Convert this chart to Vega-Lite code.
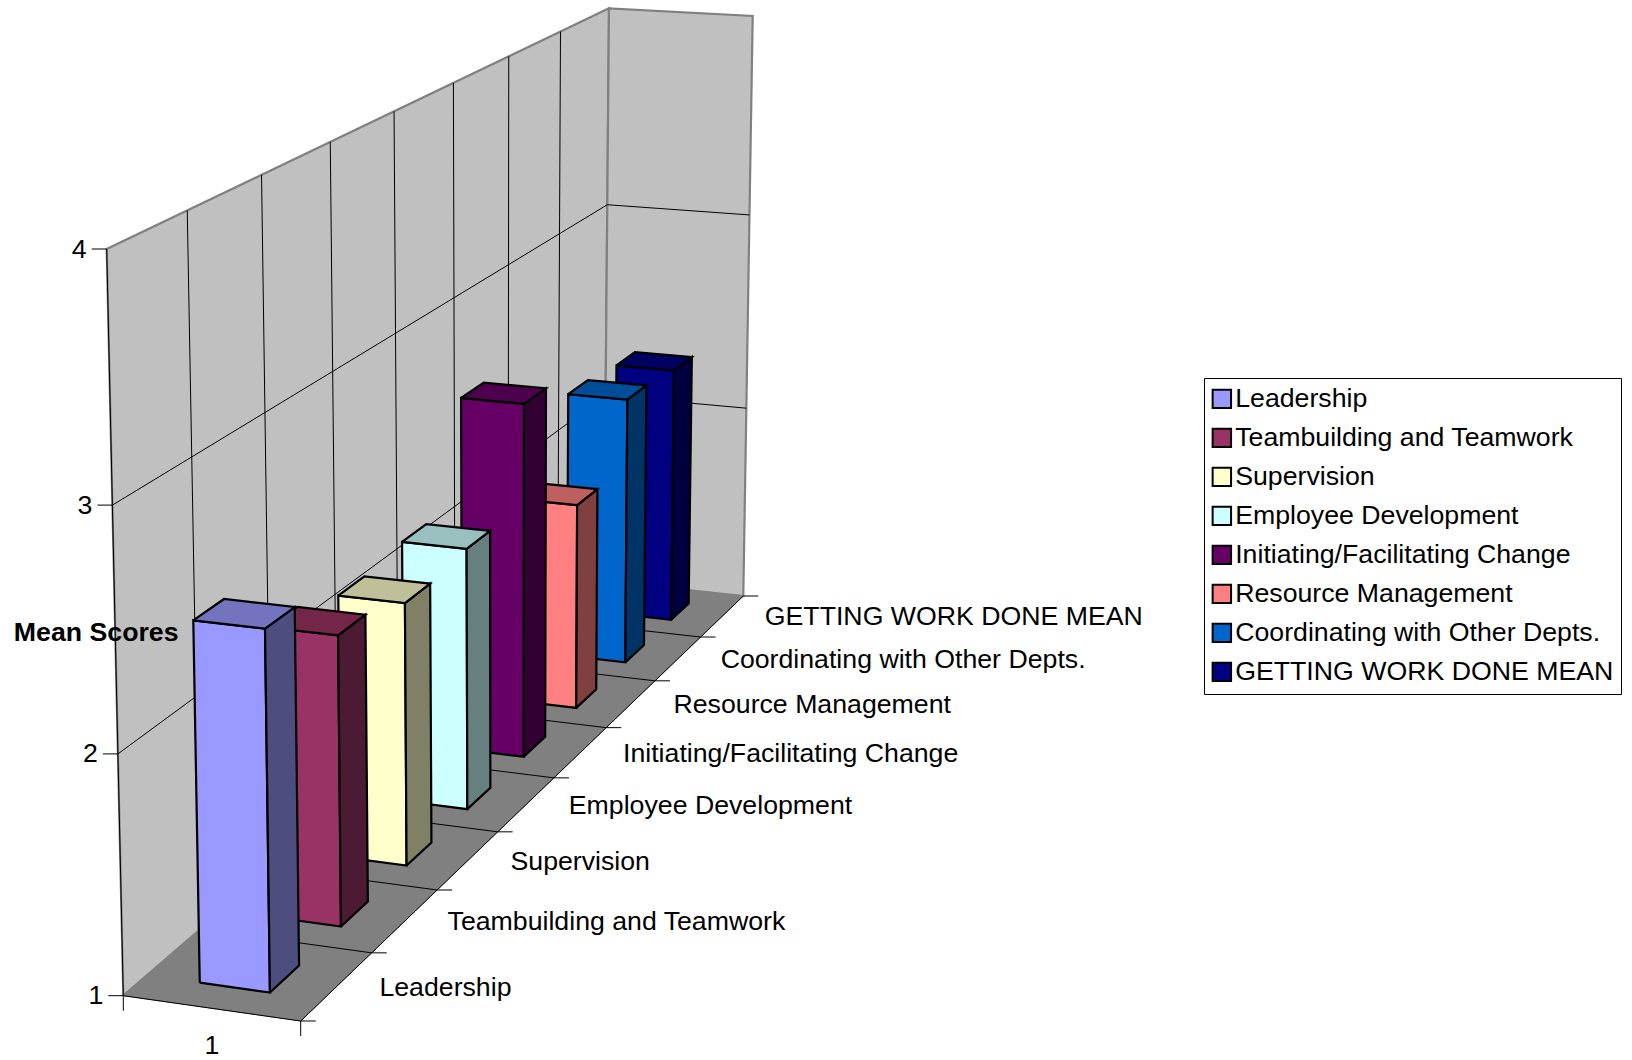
{
  "$schema": "https://vega.github.io/schema/vega-lite/v6.json",
  "width": 1632,
  "height": 1060,
  "padding": 0,
  "autosize": "none",
  "background": "white",
  "config": {
    "view": {"stroke": null},
    "font": "Liberation Sans",
    "text": {"font": "Liberation Sans", "fontSize": 26.7, "color": "black"}
  },
  "datasets": {
    "scores": [
      {"series": "GETTING WORK DONE MEAN", "position": 7, "score": 2.3},
      {"series": "Coordinating with Other Depts.", "position": 6, "score": 2.33},
      {"series": "Resource Management", "position": 5, "score": 2.0},
      {"series": "Initiating/Facilitating Change", "position": 4, "score": 2.67},
      {"series": "Employee Development", "position": 3, "score": 2.2},
      {"series": "Supervision", "position": 2, "score": 2.17},
      {"series": "Teambuilding and Teamwork", "position": 1, "score": 2.25},
      {"series": "Leadership", "position": 0, "score": 2.5}
    ],
    "planes": [
      {"part": "Left wall", "u": [0, 0, 0, 0, 0], "depth": [0, 8, 8, 0, 0], "level": [1, 1, 4, 4, 1], "vertex": [0, 1, 2, 3, 4]},
      {"part": "Back wall", "u": [0, 1, 1, 0, 0], "depth": [8, 8, 8, 8, 8], "level": [1, 1, 4, 4, 1], "vertex": [0, 1, 2, 3, 4]},
      {"part": "Floor", "u": [0, 1, 1, 0, 0], "depth": [0, 0, 8, 8, 0], "level": [1, 1, 1, 1, 1], "vertex": [0, 1, 2, 3, 4]}
    ],
    "grid": [
      {"id": "wall d0", "u": [0, 0], "depth": [0, 0], "level": [1, 4], "vertex": [0, 1]},
      {"id": "wall d1", "u": [0, 0], "depth": [1, 1], "level": [1, 4], "vertex": [0, 1]},
      {"id": "wall d2", "u": [0, 0], "depth": [2, 2], "level": [1, 4], "vertex": [0, 1]},
      {"id": "wall d3", "u": [0, 0], "depth": [3, 3], "level": [1, 4], "vertex": [0, 1]},
      {"id": "wall d4", "u": [0, 0], "depth": [4, 4], "level": [1, 4], "vertex": [0, 1]},
      {"id": "wall d5", "u": [0, 0], "depth": [5, 5], "level": [1, 4], "vertex": [0, 1]},
      {"id": "wall d6", "u": [0, 0], "depth": [6, 6], "level": [1, 4], "vertex": [0, 1]},
      {"id": "wall d7", "u": [0, 0], "depth": [7, 7], "level": [1, 4], "vertex": [0, 1]},
      {"id": "left 2", "u": [0, 0], "depth": [0, 8], "level": [2, 2], "vertex": [0, 1]},
      {"id": "left 3", "u": [0, 0], "depth": [0, 8], "level": [3, 3], "vertex": [0, 1]},
      {"id": "back 2", "u": [0, 1], "depth": [8, 8], "level": [2, 2], "vertex": [0, 1]},
      {"id": "back 3", "u": [0, 1], "depth": [8, 8], "level": [3, 3], "vertex": [0, 1]},
      {"id": "floor d0", "u": [0, 1], "depth": [0, 0], "level": [1, 1], "vertex": [0, 1]},
      {"id": "floor d1", "u": [0, 1], "depth": [1, 1], "level": [1, 1], "vertex": [0, 1]},
      {"id": "floor d2", "u": [0, 1], "depth": [2, 2], "level": [1, 1], "vertex": [0, 1]},
      {"id": "floor d3", "u": [0, 1], "depth": [3, 3], "level": [1, 1], "vertex": [0, 1]},
      {"id": "floor d4", "u": [0, 1], "depth": [4, 4], "level": [1, 1], "vertex": [0, 1]},
      {"id": "floor d5", "u": [0, 1], "depth": [5, 5], "level": [1, 1], "vertex": [0, 1]},
      {"id": "floor d6", "u": [0, 1], "depth": [6, 6], "level": [1, 1], "vertex": [0, 1]},
      {"id": "floor d7", "u": [0, 1], "depth": [7, 7], "level": [1, 1], "vertex": [0, 1]},
      {"id": "floor edge", "u": [1, 1], "depth": [0, 8], "level": [1, 1], "vertex": [0, 1]}
    ],
    "scoreAxis": [{"score": 1}, {"score": 2}, {"score": 3}, {"score": 4}],
    "depthTicks": [{"tick": 0}, {"tick": 1}, {"tick": 2}, {"tick": 3}, {"tick": 4}, {"tick": 5}, {"tick": 6}, {"tick": 7}, {"tick": 8}],
    "frontTicks": [{"across": 0}, {"across": 1}],
    "frontLabel": [{"across": 0.5, "label": "1"}],
    "scoreTitle": [{"label": "Mean Scores", "score": 2.5}]
  },
  "layer": [
    {
      "data": {"name": "planes"},
      "transform": [
        {"filter": "datum.part != 'Floor'"},
        {"flatten": ["u", "depth", "level", "vertex"]},
        {"calculate": "(datum.depth/8)/(datum.depth/8+0.748*(1-datum.depth/8))", "as": "dp"},
        {"calculate": "((datum.level-1)/3)/((datum.level-1)/3+1.044*(1-(datum.level-1)/3))", "as": "vp"},
        {"calculate": "(1-datum.vp)*((1-datum.dp)*(123.3+177.4*datum.u)+datum.dp*(604+139.3*datum.u))+datum.vp*((1-datum.dp)*(106.7+185.3*datum.u)+datum.dp*(609+143.7*datum.u))", "as": "px"},
        {"calculate": "(1-datum.vp)*((1-datum.dp)*(995.7+25.3*datum.u)+datum.dp*(581+15*datum.u))+datum.vp*((1-datum.dp)*(249+17*datum.u)+datum.dp*(8.3+7.7*datum.u))", "as": "py"}
      ],
      "mark": {"type": "line", "filled": true, "fill": "#C0C0C0", "stroke": "#808080", "strokeWidth": 2.2, "strokeJoin": "miter"},
      "encoding": {
        "x": {"field": "px", "type": "quantitative", "scale": {"domain": [0, 1632], "range": [0, 1632]}, "axis": null},
        "y": {"field": "py", "type": "quantitative", "scale": {"domain": [0, 1060], "range": [0, 1060]}, "axis": null},
        "detail": {"field": "part"},
        "order": {"field": "vertex", "type": "quantitative"}
      }
    },
    {
      "data": {"name": "planes"},
      "transform": [
        {"filter": "datum.part == 'Floor'"},
        {"flatten": ["u", "depth", "level", "vertex"]},
        {"calculate": "(datum.depth/8)/(datum.depth/8+0.748*(1-datum.depth/8))", "as": "dp"},
        {"calculate": "((datum.level-1)/3)/((datum.level-1)/3+1.044*(1-(datum.level-1)/3))", "as": "vp"},
        {"calculate": "(1-datum.vp)*((1-datum.dp)*(123.3+177.4*datum.u)+datum.dp*(604+139.3*datum.u))+datum.vp*((1-datum.dp)*(106.7+185.3*datum.u)+datum.dp*(609+143.7*datum.u))", "as": "px"},
        {"calculate": "(1-datum.vp)*((1-datum.dp)*(995.7+25.3*datum.u)+datum.dp*(581+15*datum.u))+datum.vp*((1-datum.dp)*(249+17*datum.u)+datum.dp*(8.3+7.7*datum.u))", "as": "py"}
      ],
      "mark": {"type": "line", "filled": true, "fill": "#808080", "stroke": "#808080", "strokeWidth": 1},
      "encoding": {
        "x": {"field": "px", "type": "quantitative", "scale": {"domain": [0, 1632], "range": [0, 1632]}, "axis": null},
        "y": {"field": "py", "type": "quantitative", "scale": {"domain": [0, 1060], "range": [0, 1060]}, "axis": null},
        "detail": {"field": "part"},
        "order": {"field": "vertex", "type": "quantitative"}
      }
    },
    {
      "data": {"name": "grid"},
      "transform": [
        {"flatten": ["u", "depth", "level", "vertex"]},
        {"calculate": "(datum.depth/8)/(datum.depth/8+0.748*(1-datum.depth/8))", "as": "dp"},
        {"calculate": "((datum.level-1)/3)/((datum.level-1)/3+1.044*(1-(datum.level-1)/3))", "as": "vp"},
        {"calculate": "(1-datum.vp)*((1-datum.dp)*(123.3+177.4*datum.u)+datum.dp*(604+139.3*datum.u))+datum.vp*((1-datum.dp)*(106.7+185.3*datum.u)+datum.dp*(609+143.7*datum.u))", "as": "px"},
        {"calculate": "(1-datum.vp)*((1-datum.dp)*(995.7+25.3*datum.u)+datum.dp*(581+15*datum.u))+datum.vp*((1-datum.dp)*(249+17*datum.u)+datum.dp*(8.3+7.7*datum.u))", "as": "py"}
      ],
      "mark": {"type": "line", "stroke": "black", "strokeWidth": 1},
      "encoding": {
        "x": {"field": "px", "type": "quantitative", "scale": {"domain": [0, 1632], "range": [0, 1632]}, "axis": null},
        "y": {"field": "py", "type": "quantitative", "scale": {"domain": [0, 1060], "range": [0, 1060]}, "axis": null},
        "detail": {"field": "id"},
        "order": {"field": "vertex", "type": "quantitative"}
      }
    },
    {
      "data": {"name": "scoreAxis"},
      "transform": [
        {"calculate": "((datum.score-1)/3)/((datum.score-1)/3+1.044*(1-(datum.score-1)/3))", "as": "vp"},
        {"calculate": "(1-datum.vp)*123.3+datum.vp*106.7", "as": "px"},
        {"calculate": "datum.px-15", "as": "px2"},
        {"calculate": "(1-datum.vp)*995.7+datum.vp*249", "as": "py"}
      ],
      "mark": {"type": "rule", "stroke": "black", "strokeWidth": 1},
      "encoding": {
        "x": {"field": "px", "type": "quantitative", "scale": {"domain": [0, 1632], "range": [0, 1632]}, "axis": null},
        "x2": {"field": "px2"},
        "y": {"field": "py", "type": "quantitative", "scale": {"domain": [0, 1060], "range": [0, 1060]}, "axis": null}
      }
    },
    {
      "data": {"name": "depthTicks"},
      "transform": [
        {"calculate": "(datum.tick/8)/(datum.tick/8+0.748*(1-datum.tick/8))", "as": "dp"},
        {"calculate": "(1-datum.dp)*300.7+datum.dp*743.3", "as": "px"},
        {"calculate": "datum.px+15", "as": "px2"},
        {"calculate": "(1-datum.dp)*1021+datum.dp*596", "as": "py"}
      ],
      "mark": {"type": "rule", "stroke": "black", "strokeWidth": 1},
      "encoding": {
        "x": {"field": "px", "type": "quantitative", "scale": {"domain": [0, 1632], "range": [0, 1632]}, "axis": null},
        "x2": {"field": "px2"},
        "y": {"field": "py", "type": "quantitative", "scale": {"domain": [0, 1060], "range": [0, 1060]}, "axis": null}
      }
    },
    {
      "data": {"name": "frontTicks"},
      "transform": [
        {"calculate": "123.3+177.4*datum.across", "as": "px"},
        {"calculate": "995.7+25.3*datum.across", "as": "py"},
        {"calculate": "datum.py+15", "as": "py2"}
      ],
      "mark": {"type": "rule", "stroke": "black", "strokeWidth": 1},
      "encoding": {
        "x": {"field": "px", "type": "quantitative", "scale": {"domain": [0, 1632], "range": [0, 1632]}, "axis": null},
        "y": {"field": "py", "type": "quantitative", "scale": {"domain": [0, 1060], "range": [0, 1060]}, "axis": null},
        "y2": {"field": "py2"}
      }
    },
    {
      "data": {"name": "scores"},
      "transform": [
        {"calculate": "['front','side','top']", "as": "face"},
        {"flatten": ["face"]},
        {"calculate": "[0,1,2,3,4]", "as": "vertex"},
        {"flatten": ["vertex"]},
        {"calculate": "datum.face=='side' ? 0.7 : (datum.vertex==1||datum.vertex==2 ? 0.7 : 0.3)", "as": "u"},
        {"calculate": "datum.position+(datum.face=='front' ? 0.3 : datum.face=='top' ? (datum.vertex==2||datum.vertex==3 ? 0.7 : 0.3) : (datum.vertex==1||datum.vertex==2 ? 0.7 : 0.3))", "as": "depth"},
        {"calculate": "datum.face=='top' ? datum.score : (datum.vertex==2||datum.vertex==3 ? datum.score : 1)", "as": "level"},
        {"calculate": "datum.face=='front' ? datum.series : datum.series+' '+datum.face", "as": "shade"},
        {"calculate": "(datum.depth/8)/(datum.depth/8+0.748*(1-datum.depth/8))", "as": "dp"},
        {"calculate": "((datum.level-1)/3)/((datum.level-1)/3+1.044*(1-(datum.level-1)/3))", "as": "vp"},
        {"calculate": "(1-datum.vp)*((1-datum.dp)*(123.3+177.4*datum.u)+datum.dp*(604+139.3*datum.u))+datum.vp*((1-datum.dp)*(106.7+185.3*datum.u)+datum.dp*(609+143.7*datum.u))", "as": "px"},
        {"calculate": "(1-datum.vp)*((1-datum.dp)*(995.7+25.3*datum.u)+datum.dp*(581+15*datum.u))+datum.vp*((1-datum.dp)*(249+17*datum.u)+datum.dp*(8.3+7.7*datum.u))", "as": "py"}
      ],
      "mark": {"type": "line", "filled": true, "stroke": "black", "strokeWidth": 2.2, "strokeJoin": "miter"},
      "encoding": {
        "x": {"field": "px", "type": "quantitative", "scale": {"domain": [0, 1632], "range": [0, 1632]}, "axis": null},
        "y": {"field": "py", "type": "quantitative", "scale": {"domain": [0, 1060], "range": [0, 1060]}, "axis": null},
        "detail": {"field": "shade"},
        "order": {"field": "vertex", "type": "quantitative"},
        "fill": {
          "field": "shade",
          "type": "nominal",
          "scale": {
            "domain": [
              "Leadership", "Teambuilding and Teamwork", "Supervision", "Employee Development", "Initiating/Facilitating Change", "Resource Management", "Coordinating with Other Depts.", "GETTING WORK DONE MEAN",
              "Leadership side", "Teambuilding and Teamwork side", "Supervision side", "Employee Development side", "Initiating/Facilitating Change side", "Resource Management side", "Coordinating with Other Depts. side", "GETTING WORK DONE MEAN side",
              "Leadership top", "Teambuilding and Teamwork top", "Supervision top", "Employee Development top", "Initiating/Facilitating Change top", "Resource Management top", "Coordinating with Other Depts. top", "GETTING WORK DONE MEAN top"
            ],
            "range": [
              "#9999FF", "#993366", "#FFFFCC", "#CCFFFF", "#660066", "#FF8080", "#0066CC", "#000080",
              "#4D4D80", "#4D1A33", "#808066", "#668080", "#330033", "#804040", "#003366", "#000040",
              "#7373BF", "#732648", "#BFBF99", "#99BFBF", "#4D004D", "#BF6060", "#004D99", "#000060"
            ]
          },
          "legend": {
            "title": null,
            "values": ["Leadership", "Teambuilding and Teamwork", "Supervision", "Employee Development", "Initiating/Facilitating Change", "Resource Management", "Coordinating with Other Depts.", "GETTING WORK DONE MEAN"],
            "orient": "none",
            "legendX": 1204,
            "legendY": 378,
            "padding": 7.5,
            "strokeColor": "black",
            "fillColor": "white",
            "symbolType": "square",
            "symbolSize": 340,
            "symbolOffset": -3,
            "symbolStrokeColor": "black",
            "symbolStrokeWidth": 2,
            "symbolOpacity": 1,
            "labelFont": "Liberation Sans",
            "labelFontSize": 26.7,
            "labelColor": "black",
            "labelOffset": 0,
            "labelLimit": 500,
            "rowPadding": 11
          }
        }
      }
    },
    {
      "data": {"name": "scoreAxis"},
      "transform": [
        {"calculate": "((datum.score-1)/3)/((datum.score-1)/3+1.044*(1-(datum.score-1)/3))", "as": "vp"},
        {"calculate": "(1-datum.vp)*123.3+datum.vp*106.7", "as": "px"},
        {"calculate": "(1-datum.vp)*995.7+datum.vp*249", "as": "py"}
      ],
      "mark": {"type": "text", "align": "right", "baseline": "middle", "dx": -20, "dy": 0.5},
      "encoding": {
        "x": {"field": "px", "type": "quantitative", "scale": {"domain": [0, 1632], "range": [0, 1632]}, "axis": null},
        "y": {"field": "py", "type": "quantitative", "scale": {"domain": [0, 1060], "range": [0, 1060]}, "axis": null},
        "text": {"field": "score", "type": "quantitative"}
      }
    },
    {
      "data": {"name": "scores"},
      "transform": [
        {"calculate": "((datum.position+0.5)/8)/((datum.position+0.5)/8+0.748*(1-(datum.position+0.5)/8))", "as": "dp"},
        {"calculate": "(1-datum.dp)*300.7+datum.dp*743.3", "as": "px"},
        {"calculate": "(1-datum.dp)*1021+datum.dp*596", "as": "py"}
      ],
      "mark": {"type": "text", "align": "left", "baseline": "middle", "dx": 42.5, "dy": 1.3},
      "encoding": {
        "x": {"field": "px", "type": "quantitative", "scale": {"domain": [0, 1632], "range": [0, 1632]}, "axis": null},
        "y": {"field": "py", "type": "quantitative", "scale": {"domain": [0, 1060], "range": [0, 1060]}, "axis": null},
        "text": {"field": "series", "type": "nominal"}
      }
    },
    {
      "data": {"name": "frontLabel"},
      "transform": [
        {"calculate": "123.3+177.4*datum.across", "as": "px"},
        {"calculate": "995.7+25.3*datum.across", "as": "py"}
      ],
      "mark": {"type": "text", "align": "center", "baseline": "middle", "dy": 38},
      "encoding": {
        "x": {"field": "px", "type": "quantitative", "scale": {"domain": [0, 1632], "range": [0, 1632]}, "axis": null},
        "y": {"field": "py", "type": "quantitative", "scale": {"domain": [0, 1060], "range": [0, 1060]}, "axis": null},
        "text": {"field": "label", "type": "nominal"}
      }
    },
    {
      "data": {"name": "scoreTitle"},
      "transform": [
        {"calculate": "((datum.score-1)/3)/((datum.score-1)/3+1.044*(1-(datum.score-1)/3))", "as": "vp"},
        {"calculate": "(1-datum.vp)*123.3+datum.vp*106.7", "as": "px"},
        {"calculate": "(1-datum.vp)*995.7+datum.vp*249", "as": "py"}
      ],
      "mark": {"type": "text", "align": "center", "baseline": "middle", "fontWeight": "bold", "dx": -19, "dy": 2.5},
      "encoding": {
        "x": {"field": "px", "type": "quantitative", "scale": {"domain": [0, 1632], "range": [0, 1632]}, "axis": null},
        "y": {"field": "py", "type": "quantitative", "scale": {"domain": [0, 1060], "range": [0, 1060]}, "axis": null},
        "text": {"field": "label", "type": "nominal"}
      }
    }
  ]
}
